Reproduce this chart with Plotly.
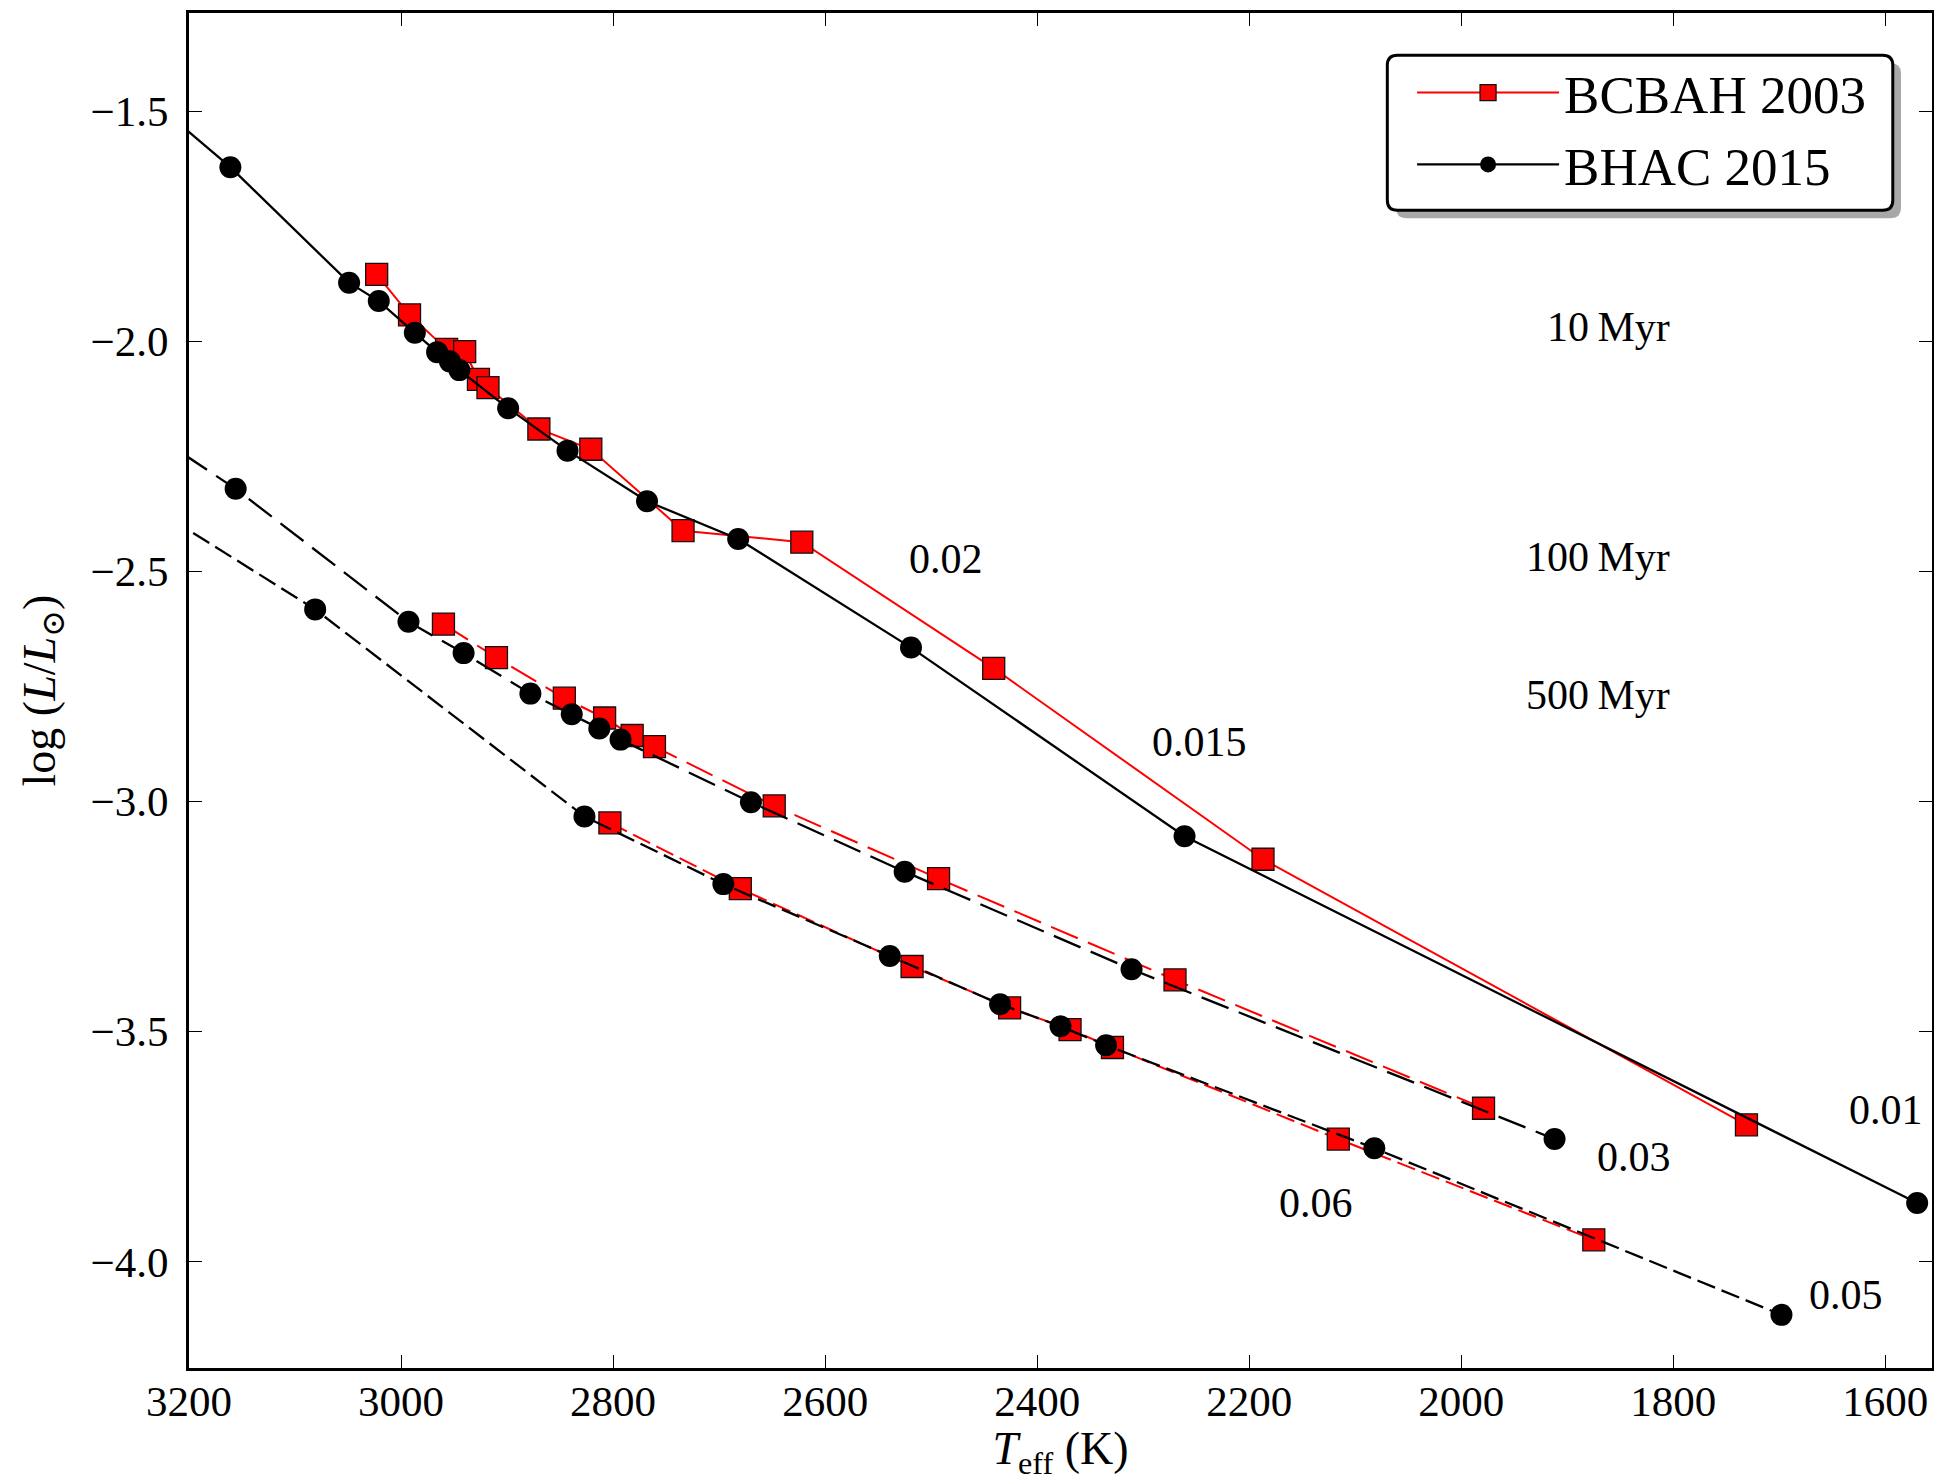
import plotly.graph_objects as go

# ---------------- data ----------------
# BHAC 2015 isochrones (black, circles)
bhac_10_teff = [3300, 3161, 3049, 3021, 2987, 2966, 2954, 2945, 2899, 2843, 2768, 2682, 2519, 2261, 1570]
bhac_10_logl = [-1.35, -1.622, -1.873, -1.913, -1.982, -2.024, -2.044, -2.063, -2.146, -2.238, -2.348, -2.430, -2.666, -3.076, -3.873]

bhac_100_teff = [3300, 3156, 2993, 2941, 2878, 2839, 2813, 2793, 2670, 2525, 2311, 1912]
bhac_100_logl = [-2.10, -2.321, -2.610, -2.678, -2.766, -2.811, -2.842, -2.866, -3.002, -3.153, -3.365, -3.734]

bhac_500_teff = [3300, 3081, 2827, 2696, 2539, 2435, 2378, 2335, 2082, 1698]
bhac_500_logl = [-2.267, -2.583, -3.033, -3.180, -3.336, -3.441, -3.489, -3.530, -3.754, -4.116]

# BCBAH 2003 isochrones (red, squares)
bcbah_10_teff = [3023, 2992, 2957, 2940, 2927, 2918, 2870, 2821, 2734, 2622, 2441, 2187, 1731]
bcbah_10_logl = [-1.855, -1.943, -2.018, -2.023, -2.083, -2.101, -2.191, -2.235, -2.412, -2.437, -2.711, -3.126, -3.703]

bcbah_100_teff = [2960, 2910, 2846, 2808, 2782, 2761, 2648, 2493, 2270, 1979]
bcbah_100_logl = [-2.615, -2.688, -2.776, -2.819, -2.857, -2.881, -3.010, -3.168, -3.388, -3.667]

bcbah_500_teff = [2803, 2680, 2518, 2426, 2369, 2329, 2116, 1875]
bcbah_500_logl = [-3.047, -3.190, -3.359, -3.449, -3.496, -3.535, -3.734, -3.953]

# Age labels and mass labels
age_labels = ["10\u2009Myr", "100\u2009Myr", "500\u2009Myr"]
age_label_teff = [1801, 1801, 1801]
age_label_logl = [-1.969, -2.469, -2.769]

mass_labels = ["0.02", "0.015", "0.01", "0.03", "0.06", "0.05"]
mass_label_teff = [2486, 2247, 1599, 1837, 2137, 1637]
mass_label_logl = [-2.474, -2.872, -3.671, -3.772, -3.872, -4.072]

x_ticks = [3200, 3000, 2800, 2600, 2400, 2200, 2000, 1800, 1600]
y_ticks = [-4.0, -3.5, -3.0, -2.5, -2.0, -1.5]

# ---------------- styling ----------------
FONT = "Liberation Serif, DejaVu Serif, serif"
RED = "#ff0000"
LONG_DASH = "29px,11px"
SHORT_DASH = "19px,7px"

fig = go.Figure()

red_sets = [
    (bcbah_10_teff, bcbah_10_logl, "solid", True),
    (bcbah_100_teff, bcbah_100_logl, LONG_DASH, False),
    (bcbah_500_teff, bcbah_500_logl, SHORT_DASH, False),
]
for xs, ys, dash, show in red_sets:
    fig.add_trace(go.Scatter(
        x=xs, y=ys, mode="lines+markers", name="BCBAH 2003",
        legendgroup="bcbah", showlegend=show,
        line=dict(color=RED, width=2, dash=dash),
        marker=dict(symbol="square", size=22, color=RED,
                    line=dict(color="#111111", width=1.3)),
    ))

black_sets = [
    (bhac_10_teff, bhac_10_logl, "solid", True),
    (bhac_100_teff, bhac_100_logl, LONG_DASH, False),
    (bhac_500_teff, bhac_500_logl, SHORT_DASH, False),
]
for xs, ys, dash, show in black_sets:
    fig.add_trace(go.Scatter(
        x=xs, y=ys, mode="lines+markers", name="BHAC 2015",
        legendgroup="bhac", showlegend=show,
        line=dict(color="black", width=2.3, dash=dash),
        marker=dict(symbol="circle", size=22, color="black",
                    line=dict(color="black", width=0)),
    ))

annotations = []
for t, x, y in zip(age_labels, age_label_teff, age_label_logl):
    annotations.append(dict(x=x, y=y, xref="x", yref="y", text=t, showarrow=False,
                            xanchor="right", yanchor="middle",
                            font=dict(family=FONT, size=42, color="black")))
for t, x, y in zip(mass_labels, mass_label_teff, mass_label_logl):
    annotations.append(dict(x=x, y=y, xref="x", yref="y", text=t, showarrow=False,
                            xanchor="center", yanchor="middle",
                            font=dict(family=FONT, size=42, color="black")))

# legend frame (rounded box with drop shadow) in paper coordinates
def rounded(x0, y0, x1, y1, rx, ry):
    return (f"M{x0+rx},{y1} H{x1-rx} Q{x1},{y1} {x1},{y1-ry} V{y0+ry} "
            f"Q{x1},{y0} {x1-rx},{y0} H{x0+rx} Q{x0},{y0} {x0},{y0+ry} "
            f"V{y1-ry} Q{x0},{y1} {x0+rx},{y1} Z")

rx, ry = 0.0058, 0.0074
shapes = [
    dict(type="path", xref="paper", yref="paper", layer="above",
         path=rounded(0.6925, 0.8486, 0.9822, 0.9629, rx, ry),
         fillcolor="#a8a8a8", line=dict(width=0)),
    dict(type="path", xref="paper", yref="paper", layer="above",
         path=rounded(0.6875, 0.8545, 0.9775, 0.9688, rx, ry),
         fillcolor="white", line=dict(color="black", width=3)),
]

fig.update_layout(
    width=1934, height=1481,
    margin=dict(l=189, r=2, t=13, b=113, pad=0),
    paper_bgcolor="white", plot_bgcolor="white",
    font=dict(family=FONT, color="black", size=43),
    showlegend=True,
    legend=dict(x=0.7017, y=0.9715, xanchor="left", yanchor="top",
                bgcolor="rgba(0,0,0,0)", borderwidth=0,
                font=dict(family=FONT, size=53, color="black"),
                itemwidth=142, tracegroupgap=0),
    annotations=annotations,
    shapes=shapes,
    xaxis=dict(
        range=[3200, 1556], tickvals=x_ticks, ticks="inside", ticklen=13, tickwidth=1.3,
        tickcolor="black", mirror="ticks", showline=True, linecolor="black", linewidth=3,
        showgrid=False, zeroline=False, tickfont=dict(family=FONT, size=43),
        ticklabelstandoff=-7, automargin=False,
        title=dict(text="<i>T</i><sub>eff</sub> (K)", font=dict(family=FONT, size=46), standoff=41),
    ),
    yaxis=dict(
        range=[-4.2315, -1.287], tickvals=y_ticks, tickformat=".1f", ticks="inside", ticklen=13,
        tickwidth=1.3, tickcolor="black", mirror="ticks", showline=True, linecolor="black",
        linewidth=3, showgrid=False, zeroline=False, tickfont=dict(family=FONT, size=43),
        ticklabelstandoff=9, automargin=False,
        title=dict(text="log (<i>L</i>/<i>L</i><sub>⊙</sub>)", font=dict(family=FONT, size=46), standoff=21),
    ),
)

fig.write_html("out.html")
